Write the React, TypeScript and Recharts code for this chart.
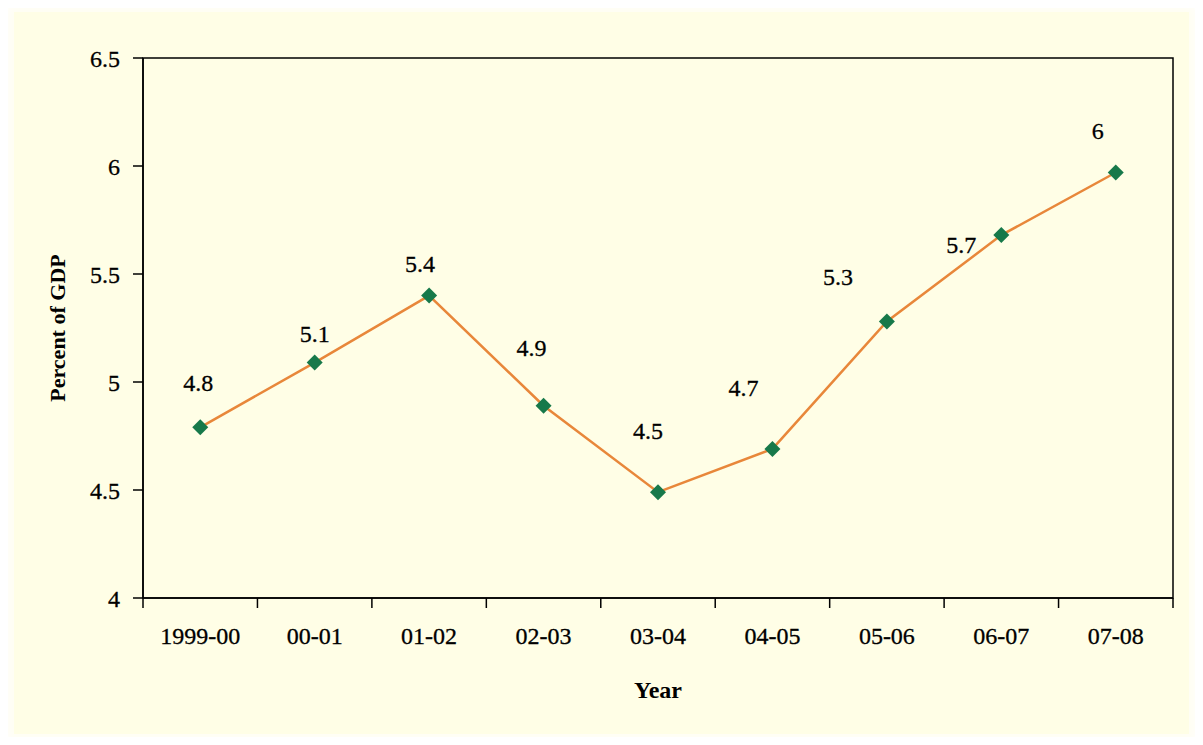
import { LineChart, Line, XAxis, YAxis, ReferenceArea, LabelList, Label } from "recharts"

const years = ["1999-00", "00-01", "01-02", "02-03", "03-04", "04-05", "05-06", "06-07", "07-08"]
const pctGdp = [4.79, 5.09, 5.4, 4.89, 4.49, 4.69, 5.28, 5.68, 5.97]
const yTicks = [4, 4.5, 5, 5.5, 6, 6.5]

const data = years.map((year, i) => ({ year, value: pctGdp[i] }))

// where each value label sits relative to its marker, as in the original
const labelNudge = [
    [-2, -45], [0, -29], [-9, -32], [-12, -58], [-10, -62],
    [-29, -61], [-49, -45], [-40, 9], [-18, -42],
]

const FONT = "'Liberation Serif', 'Times New Roman', serif"
const INK = "#000"
const BAND = 1030 / years.length

const Diamond = (props: any) => {
    const { cx, cy } = props
    if (cx == null || cy == null) return null
    const r = 8
    return (
        <path
            d={`M${cx},${cy - r}L${cx + r},${cy}L${cx},${cy + r}L${cx - r},${cy}Z`}
            fill="#17794a"
        />
    )
}

const ValueLabel = (props: any) => {
    const { x, y, value, index } = props
    const [dx, dy] = labelNudge[index] || [0, -30]
    return (
        <text x={x + dx} y={y + dy} dy="0.35em" textAnchor="middle" fontFamily={FONT} fontSize={24}
            fill={INK} stroke={INK} strokeWidth={0.3}>
            {Number(Number(value).toFixed(1)).toString()}
        </text>
    )
}

const XTick = (props: any) => {
    const { x, y, payload, index } = props
    const axisY = y - 8
    return (
        <g>
            <line x1={x - BAND / 2} x2={x - BAND / 2} y1={axisY} y2={axisY + 10} stroke={INK} strokeWidth={1.5} />
            {index === years.length - 1 && (
                <line x1={x + BAND / 2} x2={x + BAND / 2} y1={axisY} y2={axisY + 10} stroke={INK} strokeWidth={1.5} />
            )}
            <text x={x} y={axisY + 38} dy="0.35em" textAnchor="middle" fontFamily={FONT} fontSize={24}
                fill={INK} stroke={INK} strokeWidth={0.3}>
                {payload.value}
            </text>
        </g>
    )
}

const YTitle = (props: any) => {
    const { viewBox } = props
    const cx = viewBox.x - 6
    const cy = viewBox.y + viewBox.height / 2
    return (
        <text x={cx} y={cy} textAnchor="middle" dy="0.35em" transform={`rotate(-90, ${cx}, ${cy})`}
            fontFamily={FONT} fontSize={22} fontWeight="bold" fill={INK}>
            Percent of GDP
        </text>
    )
}

const XTitle = (props: any) => {
    const { viewBox } = props
    const cx = viewBox.x + viewBox.width / 2
    return (
        <text x={cx} y={690} textAnchor="middle" dy="0.35em" fontFamily={FONT} fontSize={24} fontWeight="bold" fill={INK}>
            Year
        </text>
    )
}

export default function App() {
    return (
        <div style={{ margin: -8, width: 1203, height: 745, background: "#fff", position: "relative", overflow: "hidden" }}>
            <div style={{
                position: "absolute", left: 14, top: 12, width: 1175, height: 722,
                background: "#fffee6", boxShadow: "0 0 14px 8px #fffef2",
            }} />
            <div style={{ position: "absolute", left: 0, top: 0 }}>
                <LineChart width={1203} height={745} data={data} margin={{ top: 58, right: 30, bottom: 37, left: 63 }}>
                    <ReferenceArea y1={4} y2={6.5} fill="none" stroke={INK} strokeWidth={1.5} ifOverflow="visible" />
                    <XAxis
                        dataKey="year"
                        scale="band"
                        height={110}
                        axisLine={{ stroke: INK, strokeWidth: 1.5 }}
                        tickLine={false}
                        tick={<XTick />}
                        interval={0}
                    >
                        <Label content={<XTitle />} />
                    </XAxis>
                    <YAxis
                        domain={[4, 6.5]}
                        ticks={yTicks}
                        width={80}
                        axisLine={{ stroke: INK, strokeWidth: 1.5 }}
                        tickLine={{ stroke: INK, strokeWidth: 1.5 }}
                        tickSize={10}
                        tickMargin={13}
                        tick={{ fontFamily: FONT, fontSize: 24, fill: INK, stroke: INK, strokeWidth: 0.3 }}
                    >
                        <Label content={<YTitle />} />
                    </YAxis>
                    <Line
                        dataKey="value"
                        stroke="#e8873a"
                        strokeWidth={2.5}
                        dot={<Diamond />}
                        activeDot={false}
                        isAnimationActive={false}
                    >
                        <LabelList dataKey="value" content={<ValueLabel />} />
                    </Line>
                </LineChart>
            </div>
        </div>
    )
}
